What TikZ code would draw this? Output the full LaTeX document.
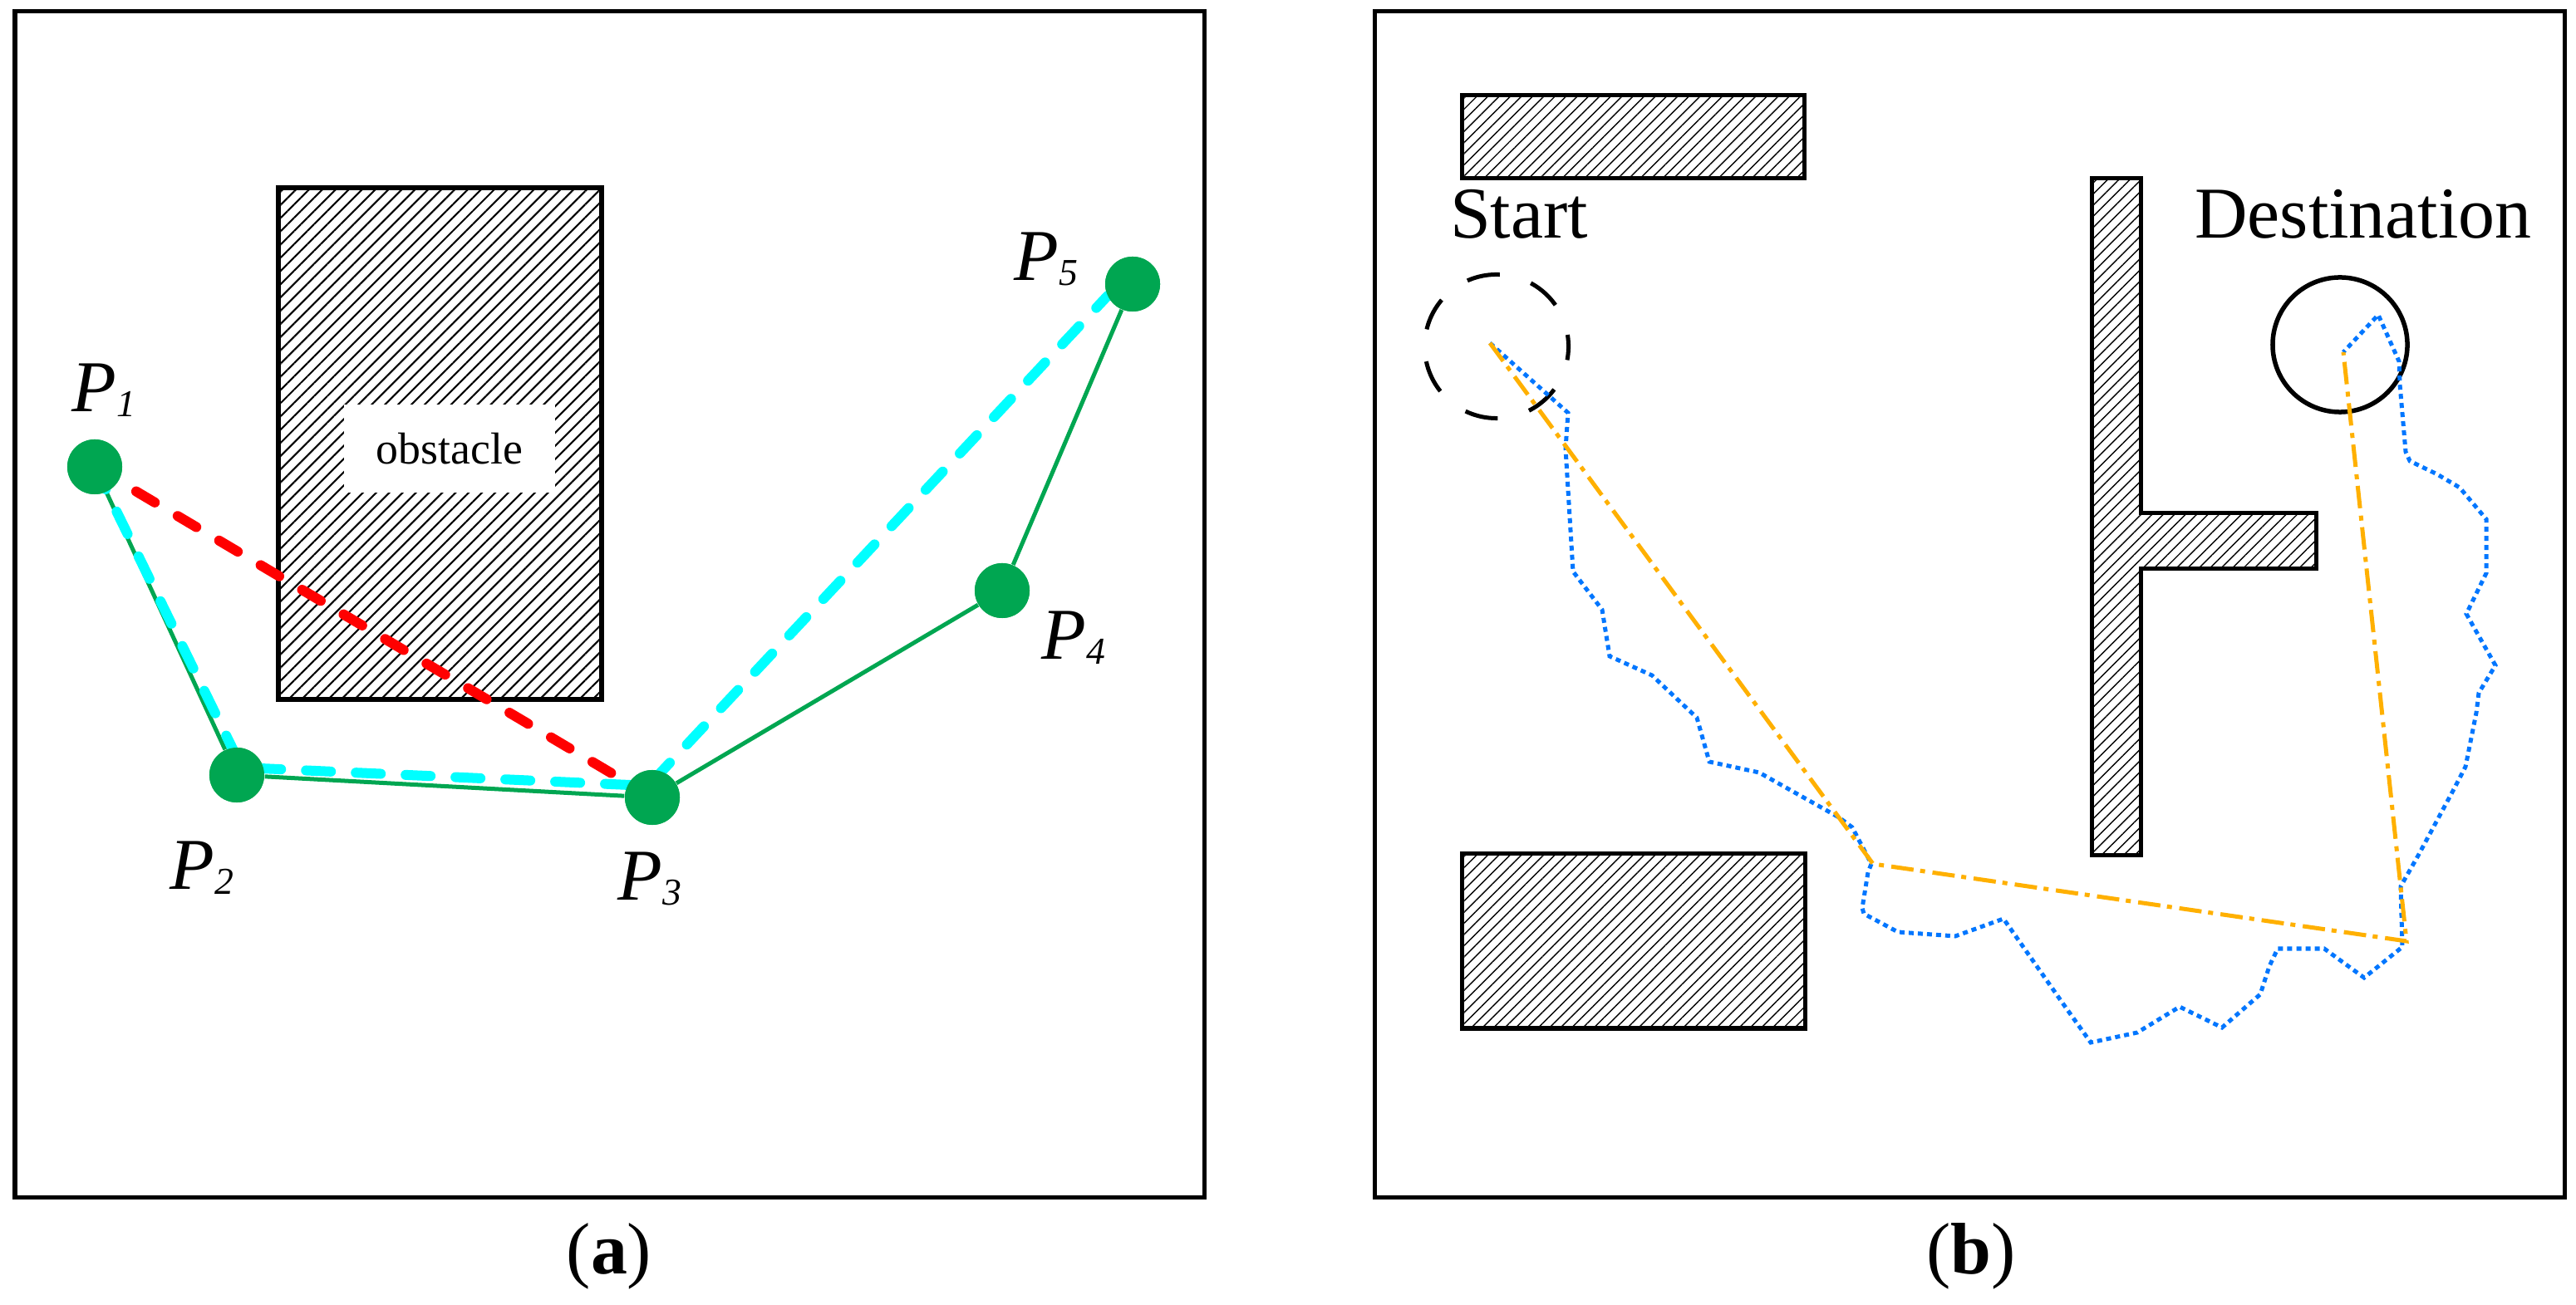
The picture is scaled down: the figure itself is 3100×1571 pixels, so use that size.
\documentclass[tikz,border=0pt]{standalone}
\usepackage{fontspec}
\setmainfont{Liberation Serif}
\usetikzlibrary{patterns.meta,calc}
\definecolor{ptgreen}{RGB}{0,166,81}
\definecolor{lcyan}{RGB}{0,255,255}
\definecolor{lred}{RGB}{255,0,0}
\definecolor{pathblue}{RGB}{0,118,255}
\definecolor{pathorange}{RGB}{255,176,0}
\newcommand\Plab[1]{\textit{P}\kern0.01em\raisebox{-0.15ex}{\fontsize{13}{13}\selectfont\textit{#1}}}
\begin{document}
\begin{tikzpicture}[x=0.01cm,y=-0.01cm,
  frame/.style={draw=black,line width=0.05cm},
  obsA/.style={draw=black,line width=0.06cm,pattern={Lines[angle=45,distance=3.2pt,line width=0.6pt]}},
  obsB/.style={draw=black,line width=0.05cm,pattern={Lines[angle=45,distance=2.7pt,line width=0.4pt]}},
  ptnode/.style={circle,fill=ptgreen,minimum size=0.66cm,inner sep=0pt},
  gline/.style={draw=ptgreen,line width=0.05cm},
  rdash/.style={draw=lred,line width=0.12cm,line cap=round,dash pattern=on 0.26cm off 0.32cm},
  cdash/.style={draw=lcyan,line width=0.12cm,line cap=round,dash pattern=on 0.3cm off 0.3cm},
  bdot/.style={draw=pathblue,line width=0.05cm,dash pattern=on 0.06cm off 0.05cm},
  odash/.style={draw=pathorange,line width=0.05cm,dash pattern=on 0.27cm off 0.08cm on 0.06cm off 0.09cm},
  lab/.style={font=\fontsize{25}{30}\selectfont,inner sep=0pt},
  smalllab/.style={font=\fontsize{15.3}{18}\selectfont,inner sep=0pt},
]
\useasboundingbox (0,0) rectangle (3100,1571);

% ---------- panel (a) ----------
\draw[frame] (18,14) rectangle (1449,1441);
\draw[obsA] (335,226) rectangle (724,842);
\node[fill=white,minimum width=2.53cm,minimum height=1.06cm,smalllab] (obs) at (541,540) {obstacle};

\node[ptnode] (P1) at (114,562) {};
\node[ptnode] (P2) at (285,933) {};
\node[ptnode] (P3) at (785,960) {};
\node[ptnode] (P4) at (1206,711) {};
\node[ptnode] (P5) at (1363,342) {};

\draw[gline] (P1) -- (P2) -- (P3) -- (P4) -- (P5);
\draw[rdash] (P1.center) -- (P3.center);
\draw[cdash] (P1.center) -- ($(P2)+(6,-9)$) -- ($(P3)+(-5,-14)$) -- ($(P5)+(-30,14)$);

\node[ptnode] at (P1) {};
\node[ptnode] at (P2) {};
\node[ptnode] at (P3) {};
\node[ptnode] at (P4) {};
\node[ptnode] at (P5) {};

\node[lab] (L1) at (125,470) {\Plab{1}};
\node[lab] (L2) at (243,1045) {\Plab{2}};
\node[lab] (L3) at (782,1058) {\Plab{3}};
\node[lab] (L4) at (1292,768) {\Plab{4}};
\node[lab] (L5) at (1259,312) {\Plab{5}};

\node[lab] (capa) at (733,1512) {(\textbf{a})};

% ---------- panel (b) ----------
\draw[frame] (1654,14) rectangle (3086,1441);
\draw[obsB] (1759,115) rectangle (2171,215);
\draw[obsB] (1759,1028) rectangle (2172,1238);
\draw[obsB] (2517,215) -- (2576,215) -- (2576,618) -- (2787,618) -- (2787,685)
  -- (2576,685) -- (2576,1030) -- (2517,1030) -- cycle;

\node[lab] (startlab) at (1828,258) {Start};
\node[lab] (destlab) at (2844,258) {Destination};

\node[circle,draw,line width=0.05cm,dash pattern=on 0.4cm off 0.39cm,dash phase=0.26cm,
  minimum size=1.73cm,inner sep=0pt] (startc) at (1801,417) {};
\node[circle,draw,line width=0.055cm,minimum size=1.62cm,inner sep=0pt] (destc) at (2816,415) {};

\coordinate (s0) at (1793,413);
\coordinate (d0) at (2820,424);
\coordinate (w1) at (2254,1040);
\coordinate (w2) at (2896,1133);

\draw[bdot] (s0) -- (1887,497) -- (1884,540) -- (1893,688) -- (1928,734) -- (1937,790)
  -- (1988,813) -- (2042,864) -- (2057,917) -- (2117,930) -- (2213,984) -- (2229,996)
  -- (2252,1040) -- (2248,1050) -- (2241,1093) -- (2243,1100) -- (2284,1122) -- (2353,1127)
  -- (2411,1106) -- (2486,1213) -- (2516,1255) -- (2572,1243) -- (2623,1212) -- (2674,1237)
  -- (2720,1197) -- (2731,1163) -- (2741,1142) -- (2797,1142) -- (2845,1177) -- (2891,1140)
  -- (2889,1067) -- (2910,1030) -- (2953,950) -- (2967,923) -- (2980,858) -- (2983,834)
  -- (3003,801) -- (2977,755) -- (2968,739) -- (2992,690) -- (2992,625) -- (2960,587)
  -- (2933,571) -- (2900,555) -- (2895,544) -- (2888,463) -- (2887,435) -- (2862,379)
  -- (d0);
\draw[odash] (s0) -- (w1) -- (w2) -- (d0);

\node[lab] (capb) at (2372,1512) {(\textbf{b})};
\end{tikzpicture}
\end{document}
